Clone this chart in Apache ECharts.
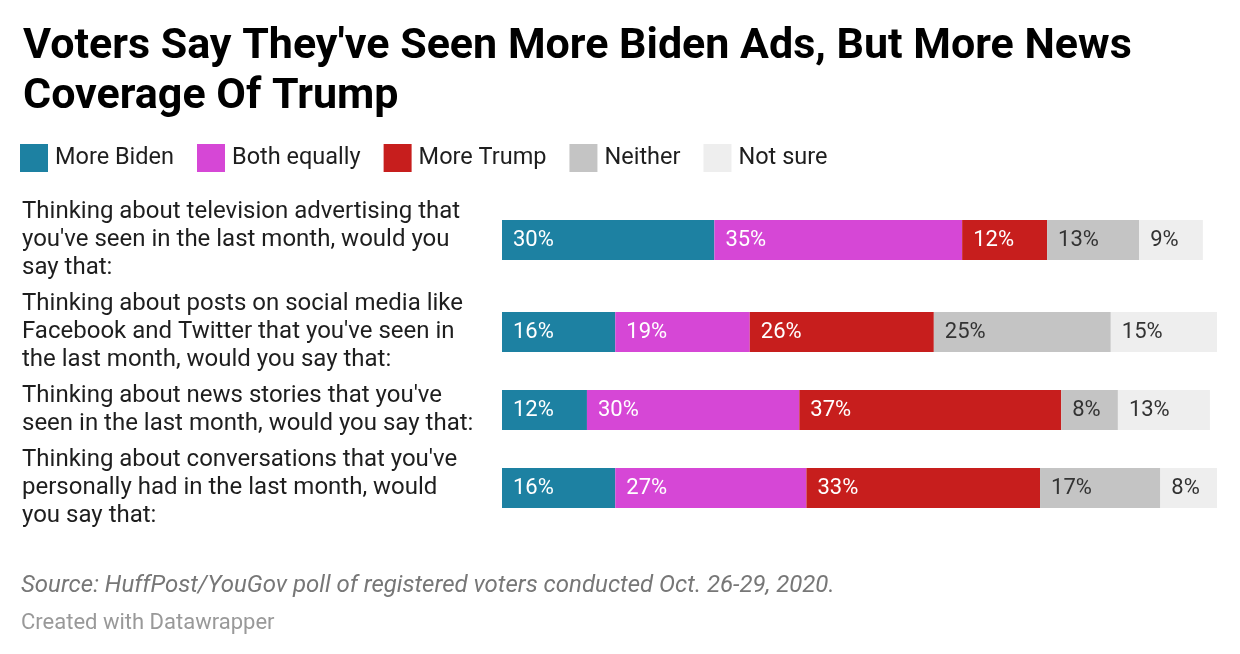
<!DOCTYPE html>
<html>
<head>
<meta charset="utf-8">
<script src="https://cdn.jsdelivr.net/npm/echarts@6/dist/echarts.min.js"></script>
<style>html,body{margin:0;padding:0;background:#fff;}#chart{width:1240px;height:654px;}</style>
</head>
<body>
<div id="chart"></div>
<script>
const categories = [
  "Thinking about television advertising that\nyou've seen in the last month, would you\nsay that:",
  "Thinking about posts on social media like\nFacebook and Twitter that you've seen in\nthe last month, would you say that:",
  "Thinking about news stories that you've\nseen in the last month, would you say that:",
  "Thinking about conversations that you've\npersonally had in the last month, would\nyou say that:"
];
const seriesNames = ["More Biden", "Both equally", "More Trump", "Neither", "Not sure"];
const moreBiden   = [30, 16, 12, 16];
const bothEqually = [35, 19, 30, 27];
const moreTrump   = [12, 26, 37, 33];
const neither     = [13, 25, 8, 17];
const notSure     = [9, 15, 13, 8];
const seriesValues = [moreBiden, bothEqually, moreTrump, neither, notSure];

const colors = ["#1d81a2", "#d647d6", "#c71e1d", "#c4c4c4", "#eeeeee"];
const labelColors = ["#ffffff", "#ffffff", "#ffffff", "#333333", "#333333"];
const rowCenters = [240, 332, 410, 488];
const barH = 40;
const FONT = "Roboto, 'Noto Sans', sans-serif";

const grids = [], xAxes = [], yAxes = [], series = [];
categories.forEach((cat, r) => {
  grids.push({ left: 502, width: 715, top: rowCenters[r] - barH / 2, height: barH });
  xAxes.push({ type: 'value', gridIndex: r, min: 0, max: 101, show: false });
  yAxes.push({
    type: 'category', gridIndex: r, data: [cat],
    axisLine: { show: false }, axisTick: { show: false }, splitLine: { show: false },
    axisLabel: { align: 'left', margin: 480, fontSize: 24, lineHeight: 28, color: '#1e1e1e', fontFamily: FONT,
      padding: [3, 0, 0, 0] }
  });
  seriesNames.forEach((name, s) => {
    series.push({
      name: name, type: 'bar', stack: 'row' + r, xAxisIndex: r, yAxisIndex: r,
      barWidth: barH, data: [seriesValues[s][r]],
      itemStyle: { color: colors[s] },
      silent: true,
      label: {
        show: true, position: 'insideLeft', distance: 11,
        formatter: '{c}%', fontSize: 22, color: labelColors[s], fontFamily: FONT
      }
    });
  });
});

const chart = echarts.init(document.getElementById('chart'));
chart.setOption({
  animation: false,
  color: colors,
  title: [
    { text: "Voters Say They've Seen More Biden Ads, But More News\nCoverage Of Trump", left: 18, top: 17,
      textStyle: { fontSize: 43, fontWeight: 'bold', lineHeight: 50, color: '#000', fontFamily: FONT } },
    { text: "Source: HuffPost/YouGov poll of registered voters conducted Oct. 26-29, 2020.", left: 16, top: 569,
      textStyle: { fontSize: 24, fontStyle: 'italic', fontWeight: 'normal', color: '#777', fontFamily: FONT } },
    { text: "Created with Datawrapper", left: 16, top: 607,
      textStyle: { fontSize: 22, fontWeight: 'normal', color: '#999', fontFamily: FONT } }
  ],
  legend: {
    left: 20, top: 144, itemWidth: 28, itemHeight: 28, itemGap: 23, icon: 'rect',
    selectedMode: false, padding: 0,
    data: seriesNames,
    textStyle: { fontSize: 23.5, color: '#1e1e1e', fontFamily: FONT, padding: [2, 0, 0, 2] }
  },
  grid: grids, xAxis: xAxes, yAxis: yAxes, series: series
});
</script>
</body>
</html>
